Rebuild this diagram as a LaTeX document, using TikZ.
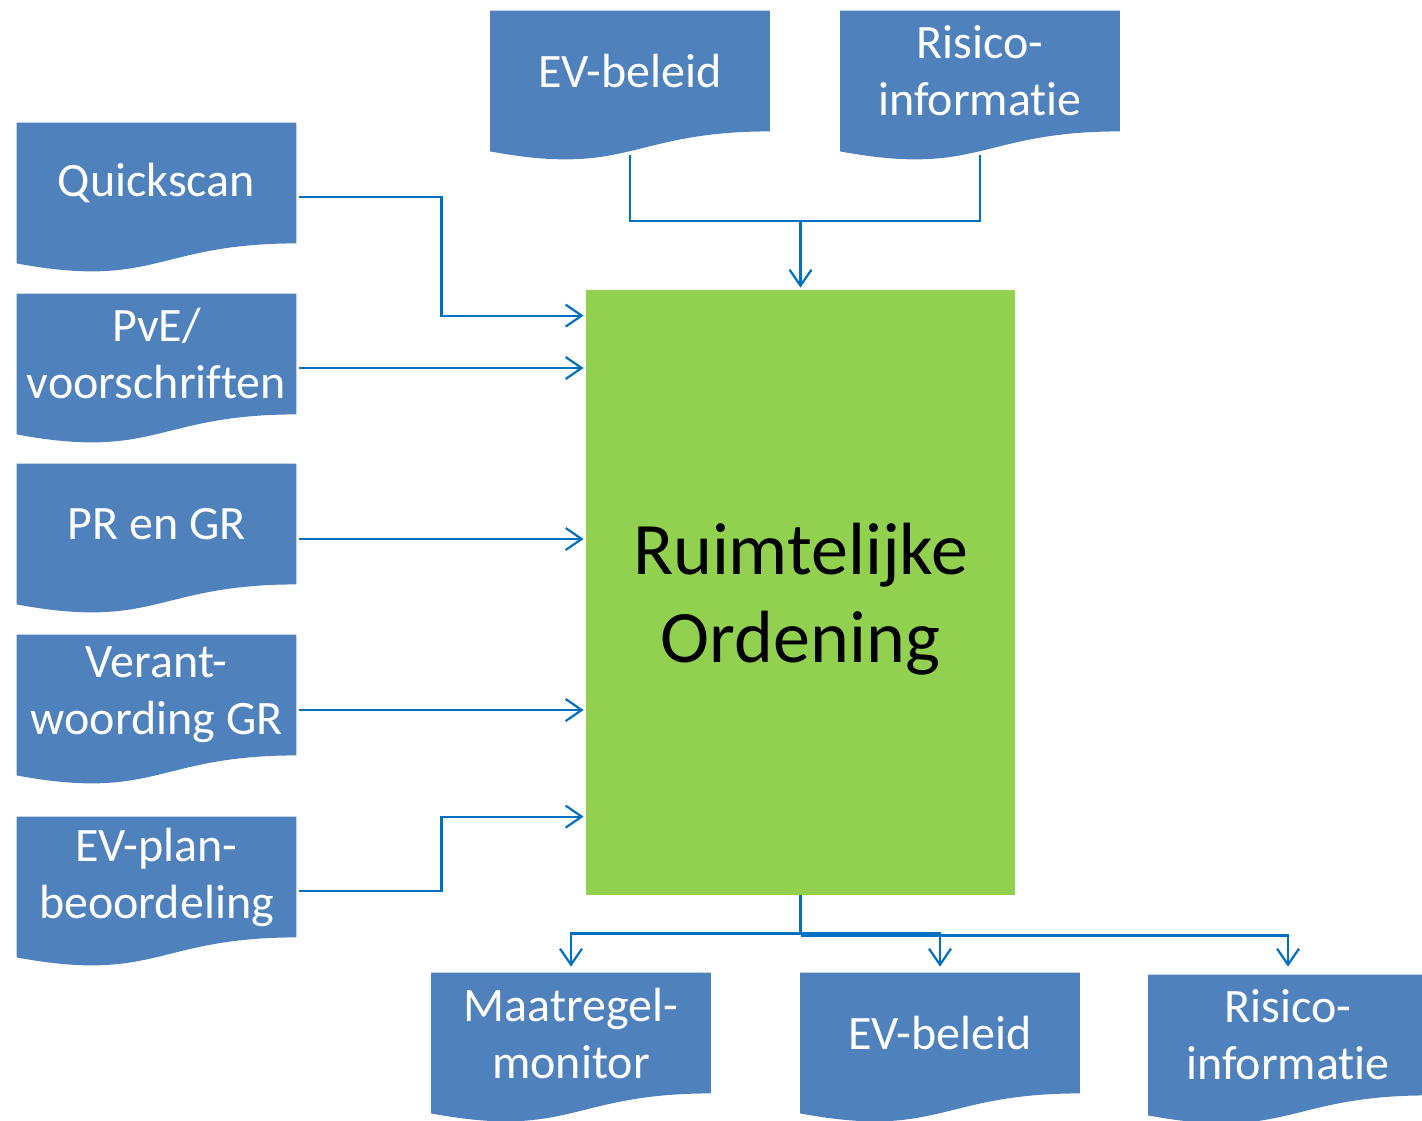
\documentclass[tikz,border=0pt]{standalone}
\usepackage{fontspec}
\setmainfont[Ligatures=NoCommon]{Carlito}
\usetikzlibrary{calc,arrows.meta,backgrounds}
\definecolor{docblue}{HTML}{4F81BD}
\definecolor{rogreen}{HTML}{92D050}
\definecolor{linkblue}{HTML}{0070C0}
% document shape round the node, set 2px higher than its text
\def\docshape(#1){\fill[docblue,yshift=1pt] (#1.north west) -- (#1.north east) -- (#1.south east) .. controls (#1.south) and ($(#1.south)+(0,46)$) .. ($(#1.south west)+(0,20)$) -- cycle;}

\begin{document}
\begin{tikzpicture}[x=0.5pt, y=-0.5pt,
	docbox/.style={inner sep=0pt, minimum width=139.5pt, minimum height=60pt, align=center, text=white, font=\fontsize{24}{28.5}\selectfont},
	link/.style={draw=linkblue, line width=1.1pt},
	linkarrow/.style={link, -{Straight Barb[length=8pt,width=11pt]}}]
		%%%%% START %%%%%
		\useasboundingbox (0, 0) rectangle (1422, 1120);
		
		% centre block
		\node[fill=rogreen, minimum width=214.5pt, minimum height=302.5pt, inner sep=0pt,
			label={[align=center, yshift=-3.5pt, font=\fontsize{37}{44}\selectfont]center:Ruimtelijke\\Ordening}] (ro) at (800.5, 592.5) {};
		
		% input documents, left column
		\node[docbox] (qs) at (156.5, 183) {Quickscan};
		\node[docbox] (pve) at (156.5, 354) {PvE/\\voorschriften};
		\node[docbox] (prgr) at (156.5, 524) {PR en GR};
		\node[docbox] (verant) at (156.5, 695) {Verant-\\woording GR};
		\node[docbox] (evplan) at (156.5, 877) {EV-plan-\\beoordeling};
		
		% input documents, top row
		\node[docbox] (evbel) at (630, 71) {EV-beleid};
		\node[docbox] (risico) at (980, 71) {Risico-\\informatie};
		
		% output documents, bottom row
		\node[docbox] (mon) at (571, 1033) {Maatregel-\\monitor};
		\node[docbox] (evbeluit) at (940, 1033) {EV-beleid};
		\node[docbox] (risicouit) at (1288, 1035) {Risico-\\informatie};
		
		\begin{pgfonlayer}{background}
			\foreach \d in {qs, pve, prgr, verant, evplan, evbel, risico, mon, evbeluit, risicouit}
				{\docshape(\d)}
		\end{pgfonlayer}
		
		% left inputs
		\draw[linkarrow] ($(qs.east)+(3,14)$) -- ++(142,0) |- ($(ro.north west)+(-2,26)$);
		\draw[linkarrow] ($(pve.east)+(3,14)$) -- ($(pve.east -| ro.west)+(-2,14)$);
		\draw[linkarrow] ($(prgr.east)+(3,15)$) -- ($(prgr.east -| ro.west)+(-2,15)$);
		\draw[linkarrow] ($(verant.east)+(3,15)$) -- ($(verant.east -| ro.west)+(-2,15)$);
		\draw[linkarrow] ($(evplan.east)+(3,14)$) -- ++(142,0) |- ($(ro.north west)+(-2,527)$);
		
		% top inputs
		\draw[link] ($(evbel.south)+(0,24)$) |- ($(ro.north)+(0,-69)$);
		\draw[link] ($(risico.south)+(0,24)$) |- ($(ro.north)+(0,-69)$);
		\draw[linkarrow] ($(ro.north)+(0,-69)$) -- ($(ro.north)+(0,-2)$);
		
		% outputs
		\draw[link] (ro.south) -- ($(ro.south)+(0,38)$);
		\draw[linkarrow] ($(ro.south)+(0,38)$) -| ($(mon.north)+(0,-6)$);
		\draw[linkarrow] ($(ro.south)+(0,38)$) -| ($(evbeluit.north)+(0,-6)$);
		\draw[linkarrow] ($(ro.south)+(0,40)$) -| ($(risicouit.north)+(0,-8)$);
		
		%%%%% END %%%%%
	\end{tikzpicture}
\end{document}
